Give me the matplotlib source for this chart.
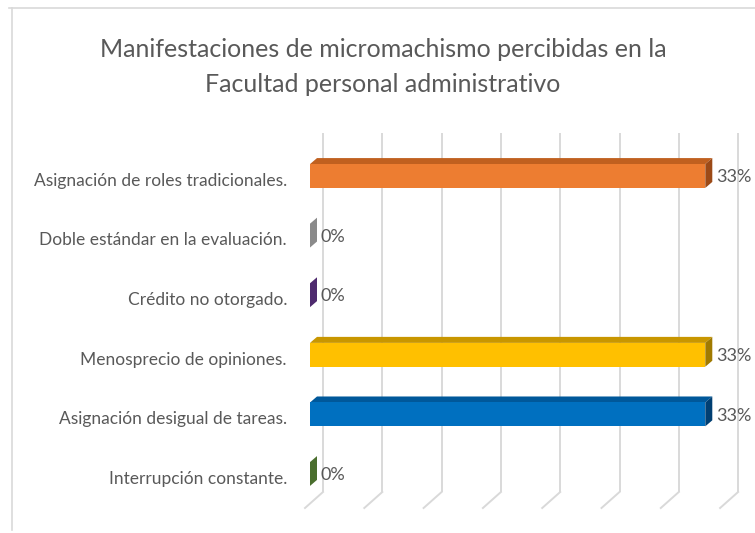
import matplotlib
matplotlib.use("Agg")
import matplotlib.pyplot as plt
from matplotlib.patches import Polygon
from matplotlib.lines import Line2D

categories = [
    "Asignación de roles tradicionales.",
    "Doble estándar en la evaluación.",
    "Crédito no otorgado.",
    "Menosprecio de opiniones.",
    "Asignación desigual de tareas.",
    "Interrupción constante.",
]
values = [33.33, 0, 0, 33.33, 33.33, 0]
value_labels = ["33%", "0%", "0%", "33%", "33%", "0%"]
front_colors = ["#ED7D31", "#A5A5A5", "#7030A0", "#FFC000", "#0070C0", "#548235"]
top_colors = ["#C0601F", "#858585", "#5A2782", "#C89600", "#00589A", "#44692B"]
side_colors = ["#9C4A17", "#8A8A8A", "#4E2A6E", "#A07A00", "#003F72", "#4A6E2E"]
grid_ticks = [0, 5, 10, 15, 20, 25, 30, 35]
title = "Manifestaciones de micromachismo percibidas en la\nFacultad personal administrativo"

fam = ["Lato", "DejaVu Sans"]

W, H = 755, 533
fig = plt.figure(figsize=(W / 100, H / 100), dpi=100)
fig.patch.set_facecolor("white")

# border
fig.add_artist(Line2D([9 / W, 1], [1 - 8 / H, 1 - 8 / H], color="#D9D9D9", lw=1.2))
fig.add_artist(Line2D([12 / W, 12 / W], [1 - 8 / H, 1 - 530 / H], color="#D9D9D9", lw=1.2))

px_per_unit = 11.86
cat_px = 59.6
ax_left_px, ax_right_px = 290, 750
ax_top_px, ax_bot_px = 120, 520
ax = fig.add_axes([ax_left_px / W, 1 - ax_bot_px / H, (ax_right_px - ax_left_px) / W, (ax_bot_px - ax_top_px) / H])
x0 = (ax_left_px - 310) / px_per_unit
x1 = (ax_right_px - 310) / px_per_unit
y_top = (ax_top_px - 176) / cat_px
y_bot = (ax_bot_px - 176) / cat_px
ax.set_xlim(x0, x1)
ax.set_ylim(y_bot, y_top)
ax.axis("off")

# depth offsets in data units
ddx = 7 / px_per_unit
ddy = -6 / cat_px
# back wall gridlines
back_dx = 13 / px_per_unit
floor_dx = -5 / px_per_unit
wall_top = (133 - 176) / cat_px
wall_bot = (492 - 176) / cat_px
floor_front = (508 - 176) / cat_px
for t in grid_ticks:
    ax.plot([t + back_dx, t + back_dx], [wall_top, wall_bot], color="#D9D9D9", lw=1.4, zorder=1,
            solid_capstyle="butt")
    ax.plot([t + back_dx, t + floor_dx], [wall_bot, floor_front], color="#D9D9D9", lw=1.4, zorder=1)

bh = 0.4
for i, (v, fc, tc, sc, lab) in enumerate(zip(values, front_colors, top_colors, side_colors, value_labels)):
    yt, yb = i - bh / 2, i + bh / 2
    if v > 0:
        ax.add_patch(Polygon([(0, yt), (v, yt), (v + ddx, yt + ddy), (ddx, yt + ddy)], closed=True,
                             facecolor=tc, edgecolor="none", zorder=3))
        ax.add_patch(Polygon([(0, yt), (v, yt), (v, yb), (0, yb)], closed=True,
                             facecolor=fc, edgecolor="none", zorder=3))
    ax.add_patch(Polygon([(v, yt), (v + ddx, yt + ddy), (v + ddx, yb + ddy), (v, yb)], closed=True,
                         facecolor=sc, edgecolor="none", zorder=3))
    ax.text(v + ddx + 0.3, i + 0.02, lab, ha="left", va="center", fontsize=13, color="#595959",
            family=fam, zorder=4)
    ax.text(x0 - 3 / px_per_unit, i + 0.08, categories[i], ha="right", va="center", fontsize=12.5,
            color="#595959", family=fam)

fig.text(383 / W, 1 - 67 / H, title, ha="center", va="center", fontsize=18, color="#595959",
         family=fam, linespacing=1.65)

fig.savefig("out.png", dpi=100)
